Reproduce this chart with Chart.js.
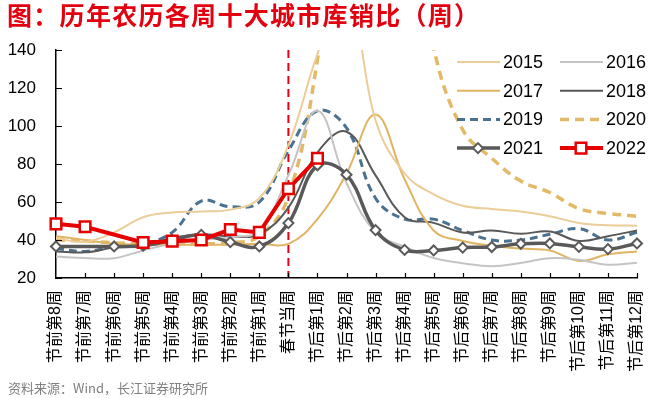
<!DOCTYPE html>
<html>
<head>
<meta charset="utf-8">
<script src="https://cdn.jsdelivr.net/npm/chart.js@4.4.1/dist/chart.umd.min.js"></script>
<style>
    html, body { margin: 0; padding: 0; background: #fff; }
    #wrap { position: relative; width: 659px; height: 398px; overflow: hidden; }
    #titulo {
        position: absolute; left: 7px; top: 0px;
        font: bold 25px/28px "Noto Sans CJK SC", sans-serif;
        letter-spacing: 1.3px;
        color: #E3000F; white-space: nowrap;
    }
    #fuente {
        position: absolute; left: 8px; top: 380px;
        font: 13px/16px "Noto Sans CJK SC", sans-serif;
        color: #808080; white-space: nowrap;
    }
    canvas { position: absolute; left: 0; top: 0; }
</style>
</head>
<body>
<div id="wrap">
    <canvas id="grafica" width="659" height="398"></canvas>
    <div id="titulo">图：历年农历各周十大城市库销比（周）</div>
    <div id="fuente">资料来源：Wind，长江证券研究所</div>
</div>
<script>
// semanas alrededor del año nuevo lunar
const semanas = [
    '节前第8周', '节前第7周', '节前第6周', '节前第5周', '节前第4周', '节前第3周', '节前第2周', '节前第1周',
    '春节当周',
    '节后第1周', '节后第2周', '节后第3周', '节后第4周', '节后第5周', '节后第6周',
    '节后第7周', '节后第8周', '节后第9周', '节后第10周', '节后第11周', '节后第12周'
];
const yTicks = [20, 40, 60, 80, 100, 120, 140];

// valores (algunos picos salen fuera del eje)
const y2015 = [41, 39, 44, 52, 54.5, 55, 56, 62, 90, 138, 175, 103, 75, 64, 58, 56.3, 55, 52.5, 49, 47.8, 47.5];
const y2016 = [31.3, 30.5, 30.4, 34.5, 38, 40, 41.5, 45, 74, 108, 70, 44, 36.5, 30.5, 27.8, 26.2, 27.9, 30.4, 29.6, 27, 28];
const y2017 = [42, 40, 38, 37.5, 37.5, 37.5, 37.5, 38, 38, 51, 75, 106, 72, 45, 39.5, 37, 35.5, 34.5, 29, 32.5, 34];
const y2018 = [34, 33.5, 36, 37, 41, 43, 42, 43, 57, 86, 97, 74, 52, 49, 44, 45, 43.3, 44.5, 39.5, 42, 45];
const y2019 = [35.5, 34, 36.5, 38, 44, 60.5, 57.5, 60, 87, 108, 99, 62, 51, 51, 45, 40, 40, 43, 46, 40, 44];
const y2020 = [40, 39.5, 38.5, 38, 38, 38, 38.5, 42, 63, 135, 250, 300, 230, 141, 98, 83, 71, 65, 56.5, 54, 52.5];
const y2021 = [36.6, null, 36.6, 37, 40, 42.7, 38.9, 36.6, 48.9, 79.3, 74.4, 45.2, 34.8, 34.5, 36, 36.3, 38, 38.2, 36.4, 35.2, 38.2];
const y2022 = [48.5, 47, null, 38.7, 39.4, 40, 45.5, 44, 67, 83];

const fuente = 'Arial, "Liberation Sans", "Noto Sans CJK SC", sans-serif';

function serie(label, data, color, width, extra) {
    return Object.assign({
        label: label,
        data: data,
        borderColor: color,
        backgroundColor: color,
        borderWidth: width,
        pointRadius: 0,
        tension: 0.4,
        fill: false,
        clip: { left: 8, top: 0, right: 8, bottom: 8 },
        order: 5
    }, extra || {});
}

const datasets = [
    serie('2015', y2015, '#EBCD98', 2),
    serie('2016', y2016, '#C4C4C4', 2),
    serie('2017', y2017, '#E1B461', 2),
    serie('2018', y2018, '#595959', 2),
    serie('2019', y2019, '#4A7290', 3, { borderDash: [8, 5] }),
    serie('2020', y2020, '#E3B968', 3.5, { borderDash: [9, 6] }),
    serie('2021', y2021, '#595959', 3.5, {
        spanGaps: true, pointStyle: 'rectRot', pointRadius: 5,
        pointBackgroundColor: '#FFFFFF', pointBorderColor: '#595959', pointBorderWidth: 2,
        clip: false, order: 1
    }),
    serie('2022', y2022, '#E60000', 4, {
        spanGaps: true, tension: 0, pointStyle: 'rect', pointRadius: 7.5,
        pointBackgroundColor: '#FFFFFF', pointBorderColor: '#E60000', pointBorderWidth: 2.5,
        clip: false, order: 0
    })
];

function marcador(ctx, ds, x, y) {
    if (!ds.pointStyle) return;
    const r = ds.pointRadius;
    ctx.save();
    ctx.setLineDash([]);
    ctx.fillStyle = ds.pointBackgroundColor;
    ctx.strokeStyle = ds.pointBorderColor;
    ctx.lineWidth = ds.pointBorderWidth;
    ctx.beginPath();
    if (ds.pointStyle === 'rect') {
        const s = r * Math.SQRT1_2;
        ctx.rect(x - s, y - s, 2 * s, 2 * s);
    } else {
        ctx.moveTo(x, y - r);
        ctx.lineTo(x + r, y);
        ctx.lineTo(x, y + r);
        ctx.lineTo(x - r, y);
        ctx.closePath();
    }
    ctx.fill();
    ctx.stroke();
    ctx.restore();
}

const decor = {
    id: 'decor',
    beforeDatasetsDraw(chart) {
        const { ctx, chartArea, scales } = chart;
        const px = scales.x.getPixelForValue(semanas.indexOf('春节当周'));
        ctx.save();
        ctx.strokeStyle = '#E60012';
        ctx.lineWidth = 2;
        ctx.setLineDash([8, 5]);
        ctx.beginPath();
        ctx.moveTo(px, chartArea.top);
        ctx.lineTo(px, chartArea.bottom);
        ctx.stroke();
        ctx.restore();
    },
    afterDraw(chart) {
        const { ctx, chartArea, scales } = chart;
        ctx.save();
        // marcas hacia dentro de los ejes
        ctx.strokeStyle = '#000';
        ctx.lineWidth = 1.2;
        ctx.beginPath();
        scales.y.ticks.forEach((t, i) => {
            const py = Math.round(scales.y.getPixelForTick(i)) + 0.5;
            ctx.moveTo(chartArea.left, py);
            ctx.lineTo(chartArea.left + 6, py);
        });
        semanas.forEach((s, i) => {
            if (i === 0) return;
            const px = Math.round(scales.x.getPixelForValue(i)) + 0.5;
            ctx.moveTo(px, chartArea.bottom);
            ctx.lineTo(px, chartArea.bottom - 5);
        });
        ctx.stroke();

        // leyenda en dos columnas
        ctx.font = '18px ' + fuente;
        ctx.textBaseline = 'middle';
        ctx.fillStyle = '#000';
        chart.data.datasets.forEach((ds, i) => {
            const x0 = (i % 2) ? 560 : 457;
            const y0 = 62 + Math.floor(i / 2) * 28.7;
            ctx.save();
            ctx.strokeStyle = ds.borderColor;
            ctx.lineWidth = ds.borderWidth;
            ctx.setLineDash(ds.borderDash || []);
            ctx.beginPath();
            ctx.moveTo(x0, y0);
            ctx.lineTo(x0 + 43, y0);
            ctx.stroke();
            ctx.restore();
            marcador(ctx, ds, x0 + 21, y0);
            ctx.fillText(ds.label, x0 + 46, y0 + 1);
        });
        ctx.restore();
    }
};

Chart.defaults.font.family = fuente;
Chart.defaults.color = '#000000';

new Chart(document.getElementById('grafica'), {
    type: 'line',
    data: { labels: semanas, datasets: datasets },
    plugins: [decor],
    options: {
        responsive: false,
        animation: false,
        layout: { padding: { top: 50, right: 22, left: 0, bottom: 0 } },
        elements: { line: { capBezierPoints: false } },
        plugins: {
            legend: { display: false },
            tooltip: { enabled: false }
        },
        scales: {
            x: {
                offset: false,
                grid: { display: false, drawTicks: false },
                border: { display: true, color: '#000', width: 1.5 },
                ticks: {
                    autoSkip: false,
                    minRotation: 90,
                    maxRotation: 90,
                    padding: 12,
                    font: { size: 16 }
                },
                afterFit(scale) {
                    scale.height = 120;
                    scale.paddingLeft = 0;
                    scale.paddingRight = 0;
                }
            },
            y: {
                min: 20,
                max: 140,
                grid: { display: false, drawTicks: false },
                border: { display: true, color: '#000', width: 1.5 },
                afterBuildTicks(scale) { scale.ticks = yTicks.map(v => ({ value: v })); },
                ticks: { padding: 20, font: { size: 17 } },
                afterFit(scale) { scale.width = 56; }
            }
        }
    }
});
</script>
</body>
</html>
